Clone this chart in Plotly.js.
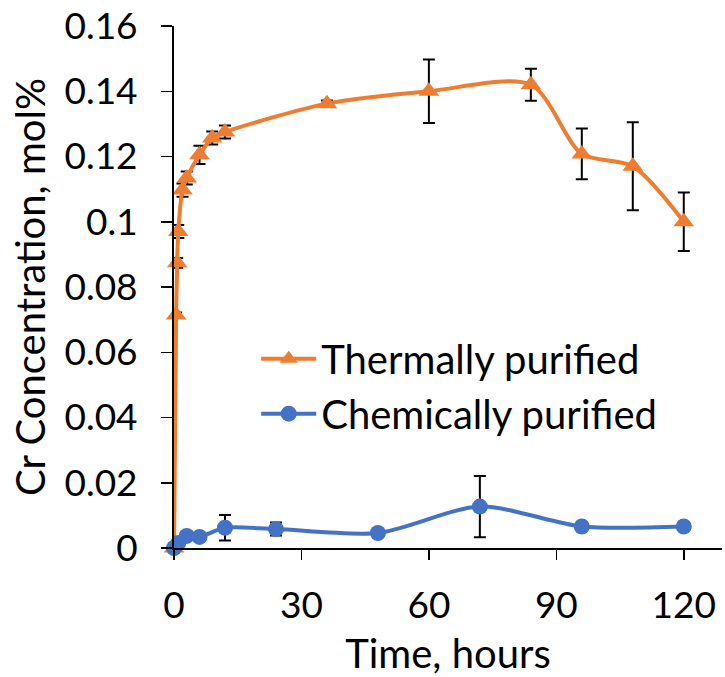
<!DOCTYPE html>
<html>
<head>
<meta charset="utf-8">
<script src="https://cdn.plot.ly/plotly-3.0.1.min.js"></script>
<style>
html,body{margin:0;padding:0;background:#fff;}
#chart{width:725px;height:677px;}
</style>
</head>
<body>
<div id="chart"></div>
<script>
// Data
var thermalTime = [0, 0.5, 0.75, 1, 2, 3, 6, 9, 12, 36, 60, 84, 96, 108, 120];
var thermalCr   = [0, 0.0714, 0.0874, 0.0970, 0.1097, 0.1134, 0.1205, 0.1257, 0.1275, 0.1362, 0.1400, 0.1420, 0.1208, 0.1170, 0.1000];
var thermalErr  = [0, 0.0008, 0.0015, 0.002, 0.002, 0.002, 0.0028, 0.002, 0.002, 0.001, 0.0097, 0.0049, 0.0078, 0.0135, 0.009];

var chemTime = [0, 1, 3, 6, 12, 24, 48, 72, 96, 120];
var chemCr   = [0, 0.0015, 0.0037, 0.0034, 0.0062, 0.0058, 0.0046, 0.0127, 0.0066, 0.0066];
var chemErr  = [0, 0, 0, 0, 0.0039, 0.002, 0, 0.0094, 0, 0];

var seriesNames = ["Thermally purified", "Chemically purified"];
var xTickVals = [0, 30, 60, 90, 120];
var yTickVals = [0, 0.02, 0.04, 0.06, 0.08, 0.1, 0.12, 0.14, 0.16];

var FONT = "Lato, 'Open Sans', sans-serif";

var traces = [
  {
    x: thermalTime, y: thermalCr, name: seriesNames[0],
    type: "scatter", mode: "lines+markers", cliponaxis: false,
    line: {color: "#ED7D31", width: 4, shape: "spline", smoothing: 0.8},
    marker: {symbol: "triangle-up", size: 18, color: "#ED7D31"},
    error_y: {type: "data", array: thermalErr, visible: true, color: "#000", thickness: 2, width: 6}
  },
  {
    x: chemTime, y: chemCr, name: seriesNames[1],
    type: "scatter", mode: "lines+markers", cliponaxis: false,
    line: {color: "#4472C4", width: 4, shape: "spline", smoothing: 0.8},
    marker: {symbol: "circle", size: 16, color: "#4472C4"},
    error_y: {type: "data", array: chemErr, visible: true, color: "#000", thickness: 2, width: 6}
  }
];

var layout = {
  width: 725, height: 677,
  margin: {l: 174, r: 3, t: 26, b: 129},
  paper_bgcolor: "#fff", plot_bgcolor: "#fff",
  font: {family: FONT, size: 37, color: "#000"},
  showlegend: true,
  legend: {
    x: 0.15, y: 0.425, xanchor: "left", yanchor: "top",
    bgcolor: "rgba(0,0,0,0)", font: {family: FONT, size: 40, color: "#000"},
    itemwidth: 55, tracegroupgap: 0
  },
  xaxis: {
    range: [0, 129], tickvals: xTickVals, ticktext: xTickVals.map(String),
    showgrid: false, zeroline: false,
    showline: true, linecolor: "#000", linewidth: 2,
    ticks: "outside", ticklen: 10, tickwidth: 1.5, tickcolor: "#000",
    ticklabelstandoff: 14,
    tickfont: {family: FONT, size: 37, color: "#000"},
    title: {text: "Time, hours", font: {family: FONT, size: 40, color: "#000"}, standoff: 18}
  },
  yaxis: {
    range: [0, 0.16], tickvals: yTickVals, ticktext: yTickVals.map(String),
    showgrid: false, zeroline: false,
    showline: true, linecolor: "#000", linewidth: 2,
    ticks: "outside", ticklen: 11, tickwidth: 1.5, tickcolor: "#000",
    ticklabelstandoff: 16,
    tickfont: {family: FONT, size: 37, color: "#000"},
    title: {text: "Cr Concentration, mol%", font: {family: FONT, size: 40, color: "#000"}, standoff: 6}
  }
};

Plotly.newPlot("chart", traces, layout, {displayModeBar: false, staticPlot: true});
</script>
</body>
</html>
